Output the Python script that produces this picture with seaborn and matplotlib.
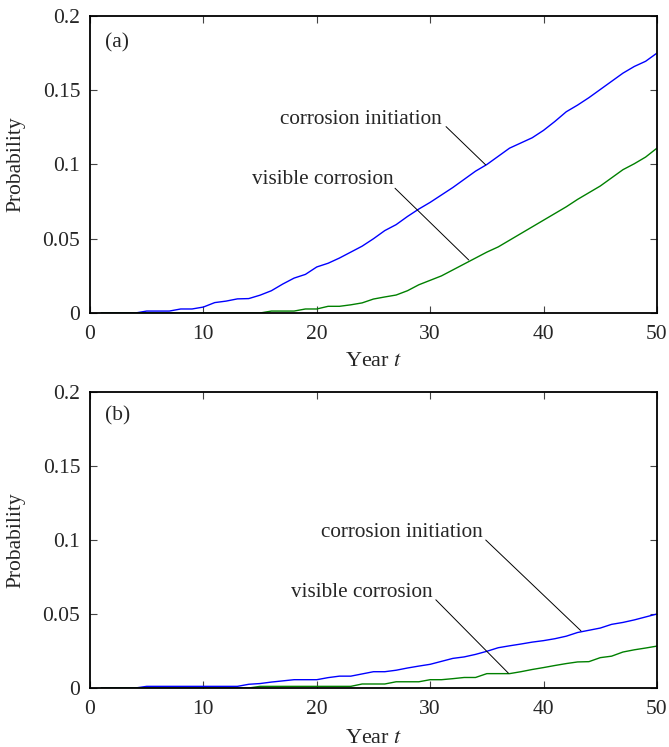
import numpy as np
import pandas as pd
import matplotlib
matplotlib.use("Agg")
import matplotlib.pyplot as plt
import seaborn as sns

years = list(range(1, 51))

init_a = [0, 0, 0, 0, 0.0013, 0.0013, 0.0013, 0.0027, 0.0027, 0.004,
          0.007, 0.008, 0.0095, 0.0097, 0.012, 0.015, 0.0195, 0.0235, 0.026, 0.031,
          0.0335, 0.037, 0.041, 0.045, 0.050, 0.0555, 0.0595, 0.065, 0.070, 0.0745,
          0.0795, 0.0845, 0.090, 0.0955, 0.100, 0.1055, 0.111, 0.1145, 0.118, 0.123,
          0.129, 0.1355, 0.140, 0.145, 0.1505, 0.156, 0.1615, 0.166, 0.1695, 0.175]
visible_a = [0, 0, 0, 0, 0, 0, 0, 0, 0, 0,
             0, 0, 0, 0, 0, 0.0013, 0.0013, 0.0013, 0.0027, 0.0027,
             0.0045, 0.0045, 0.0055, 0.0068, 0.0094, 0.0108, 0.0121, 0.015, 0.019, 0.022,
             0.025, 0.029, 0.033, 0.037, 0.041, 0.0445, 0.049, 0.0535, 0.058, 0.0625,
             0.067, 0.0715, 0.0765, 0.081, 0.0855, 0.091, 0.0965, 0.1005, 0.105, 0.111]
init_b = [0, 0, 0, 0, 0.0011, 0.0011, 0.0011, 0.0011, 0.0011, 0.0011,
          0.0011, 0.0011, 0.0011, 0.0025, 0.003, 0.004, 0.0048, 0.0056, 0.0056, 0.0056,
          0.007, 0.008, 0.008, 0.0095, 0.011, 0.011, 0.012, 0.0135, 0.0148, 0.016,
          0.018, 0.020, 0.021, 0.0227, 0.0248, 0.0272, 0.0285, 0.0297, 0.031, 0.032,
          0.0333, 0.035, 0.0375, 0.039, 0.0405, 0.043, 0.0443, 0.046, 0.048, 0.050]
visible_b = [0, 0, 0, 0, 0, 0, 0, 0, 0, 0,
             0, 0, 0, 0, 0.0011, 0.0011, 0.0011, 0.0011, 0.0011, 0.0011,
             0.0011, 0.0011, 0.0011, 0.0027, 0.0027, 0.0027, 0.0042, 0.0042, 0.0042, 0.0056,
             0.0056, 0.0063, 0.0071, 0.0071, 0.0097, 0.0097, 0.0097, 0.011, 0.0125, 0.0138,
             0.0152, 0.0165, 0.0176, 0.0178, 0.0205, 0.0215, 0.0243, 0.0258, 0.027, 0.0283]

xticks = [0, 10, 20, 30, 40, 50]
yticks = [0, 0.05, 0.1, 0.15, 0.2]
ytick_labels = ["0", "0.05", "0.1", "0.15", "0.2"]

sns.set_style("ticks")
plt.rcParams['font.family'] = ['Liberation Serif', 'DejaVu Serif']
plt.rcParams['mathtext.fontset'] = 'stix'
plt.rcParams['xtick.direction'] = 'in'
plt.rcParams['ytick.direction'] = 'in'

fig = plt.figure(figsize=(6.69, 7.47), dpi=100)
ax1 = fig.add_axes([0.1345, 0.581, 0.8475, 0.3976])
ax2 = fig.add_axes([0.1345, 0.079, 0.8475, 0.3962])

panels = [
    (ax1, init_a, visible_a, "(a)", -0.165,
     (23.9, 0.130), (31.4, 0.1255), (34.9, 0.0997),
     (20.5, 0.0900), (26.9, 0.084), (33.4, 0.0357)),
    (ax2, init_b, visible_b, "(b)", -0.169,
     (27.5, 0.105), (34.9, 0.100), (43.3, 0.0386),
     (24.0, 0.0648), (30.5, 0.0596), (36.9, 0.0100)),
]

for ax, ini, vis, lab, xly, t1, s1, e1, t2, s2, e2 in panels:
    df = pd.DataFrame({"Year": years * 2,
                       "P": ini + vis,
                       "series": ["corrosion initiation"] * 50 + ["visible corrosion"] * 50})
    sns.lineplot(data=df, x="Year", y="P", hue="series",
                 palette={"corrosion initiation": "#0000ff", "visible corrosion": "#008000"},
                 linewidth=1.0, ax=ax, legend=False)
    ax.set_xlim(0, 50)
    ax.set_ylim(0, 0.2)
    ax.set_xticks(xticks)
    ax.set_yticks(yticks)
    ax.set_yticklabels(ytick_labels)
    ax.tick_params(axis='both', which='both', top=True, right=True, labelsize=15.5,
                   length=5, width=0.8, color='#444444')
    ax.tick_params(axis='x', pad=9)
    ax.tick_params(axis='y', pad=7)
    for sp in ax.spines.values():
        sp.set_linewidth(1.3)
        sp.set_color('black')
    ax.set_xlabel("Year $t$", fontsize=16)
    ax.set_ylabel("Probability", fontsize=15.5)
    ax.xaxis.set_label_coords(0.5, xly)
    ax.xaxis.label.set_va('center')
    ax.yaxis.set_label_coords(-0.1305, 0.5)
    ax.yaxis.label.set_va('center')
    ax.text(2.4, 0.1816 if lab == "(a)" else 0.1837, lab, fontsize=15.5,
            ha='center', va='center')
    ax.text(t1[0], t1[1], "corrosion initiation", fontsize=15.3, ha='center', va='center')
    ax.plot([s1[0], e1[0]], [s1[1], e1[1]], color='black', linewidth=0.7)
    ax.text(t2[0], t2[1], "visible corrosion", fontsize=15.3, ha='center', va='center')
    ax.plot([s2[0], e2[0]], [s2[1], e2[1]], color='black', linewidth=0.7)

fig.savefig("out.png", dpi=100)
